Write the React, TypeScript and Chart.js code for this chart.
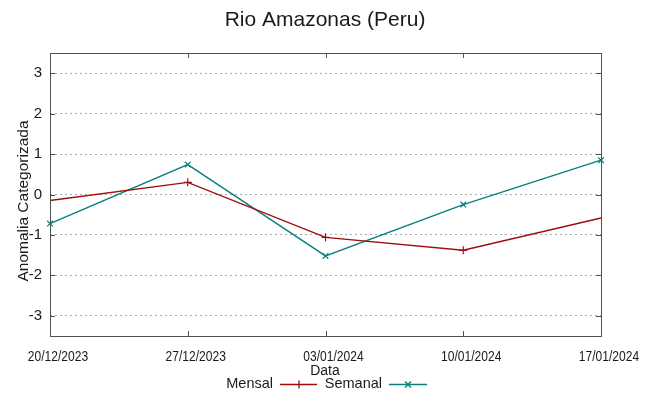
import React, { useEffect, useRef } from "react";
import { Chart, registerables } from "chart.js";

Chart.register(...registerables);

const categories = ["20/12/2023", "27/12/2023", "03/01/2024", "10/01/2024", "17/01/2024"];
const mensal = [-0.15, 0.3, -1.06, -1.38, -0.58];
const semanal = [-0.72, 0.74, -1.52, -0.25, 0.85];
const yTicks = [-3, -2, -1, 0, 1, 2, 3];

const RED = "#a00d0d";
const TEAL = "#0a8080";
const FONT = "'Liberation Sans', Arial, sans-serif";

const decorPlugin = {
  id: "decor",
  afterDraw(chart: any) {
    const ctx = chart.ctx as CanvasRenderingContext2D;
    const a = chart.chartArea;
    const ys = chart.scales.y;
    const xs = chart.scales.x;
    ctx.save();
    // box
    ctx.strokeStyle = "#505050";
    ctx.lineWidth = 1;
    ctx.strokeRect(Math.round(a.left) + 0.5, Math.round(a.top) + 0.5, Math.round(a.right - a.left), Math.round(a.bottom - a.top));
    // inner ticks
    ctx.beginPath();
    yTicks.forEach((v) => {
      const y = Math.round(ys.getPixelForValue(v)) + 0.5;
      ctx.moveTo(a.left, y);
      ctx.lineTo(a.left + 5, y);
      ctx.moveTo(a.right, y);
      ctx.lineTo(a.right - 5, y);
    });
    categories.forEach((_, i) => {
      const x = Math.round(xs.getPixelForValue(i)) + 0.5;
      ctx.moveTo(x, a.bottom);
      ctx.lineTo(x, a.bottom - 5);
      ctx.moveTo(x, a.top);
      ctx.lineTo(x, a.top + 5);
    });
    ctx.stroke();

    ctx.fillStyle = "#1a1a1a";
    // x tick labels (condensed)
    ctx.font = `14px ${FONT}`;
    ctx.textAlign = "center";
    ctx.textBaseline = "alphabetic";
    categories.forEach((c, i) => {
      const x = xs.getPixelForValue(i) + 8;
      ctx.save();
      ctx.translate(x, 361);
      ctx.scale(0.86, 1);
      ctx.fillText(c, 0, 0);
      ctx.restore();
    });
    // title
    ctx.font = `21px ${FONT}`;
    ctx.textAlign = "center";
    ctx.fillText("Rio Amazonas (Peru)", 325, 26);
    // y title
    ctx.save();
    ctx.translate(28, 201);
    ctx.rotate(-Math.PI / 2);
    ctx.font = `15.5px ${FONT}`;
    ctx.textAlign = "center";
    ctx.fillText("Anomalia Categorizada", 0, 0);
    ctx.restore();
    // x title
    ctx.font = `14px ${FONT}`;
    ctx.textAlign = "center";
    ctx.fillText("Data", 325, 375);
    // legend
    ctx.textAlign = "right";
    ctx.font = `14.5px ${FONT}`;
    ctx.fillText("Mensal", 273, 388);
    ctx.fillText("Semanal", 382, 388);
    const ly = 384.5;
    ctx.lineWidth = 1.3;
    ctx.strokeStyle = RED;
    ctx.beginPath();
    ctx.moveTo(280, ly);
    ctx.lineTo(317, ly);
    ctx.moveTo(299, ly - 4);
    ctx.lineTo(299, ly + 4);
    ctx.stroke();
    ctx.strokeStyle = TEAL;
    ctx.beginPath();
    ctx.moveTo(389, ly);
    ctx.lineTo(427, ly);
    ctx.moveTo(405, ly - 3);
    ctx.lineTo(411, ly + 3);
    ctx.moveTo(405, ly + 3);
    ctx.lineTo(411, ly - 3);
    ctx.stroke();
    ctx.restore();
  },
};

export default function App() {
  const ref = useRef<HTMLCanvasElement>(null);
  useEffect(() => {
    if (!ref.current) return;
    const chart = new Chart(ref.current, {
      type: "line",
      data: {
        labels: categories,
        datasets: [
          {
            label: "Mensal",
            data: mensal,
            borderColor: RED,
            backgroundColor: RED,
            borderWidth: 1.4,
            pointStyle: "cross",
            pointRadius: [0, 4, 4, 4, 0],
            pointBorderWidth: 1.2,
            pointBorderColor: RED,
            tension: 0,
            fill: false,
          },
          {
            label: "Semanal",
            data: semanal,
            borderColor: TEAL,
            backgroundColor: TEAL,
            borderWidth: 1.4,
            pointStyle: "crossRot",
            pointRadius: 4,
            pointBorderWidth: 1.2,
            pointBorderColor: TEAL,
            tension: 0,
            fill: false,
          },
        ],
      },
      options: {
        animation: false,
        responsive: true,
        maintainAspectRatio: false,
        layout: { padding: { left: 0, right: 48, top: 53, bottom: 0 } },
        plugins: {
          legend: { display: false },
          title: { display: false },
          tooltip: { enabled: false },
        },
        scales: {
          x: {
            type: "category",
            offset: false,
            grid: { display: false, drawTicks: false },
            border: { display: false },
            ticks: { display: false, autoSkip: false },
            afterFit: (s: any) => {
              s.height = 60;
            },
          },
          y: {
            min: -3.5,
            max: 3.5,
            grid: { color: "#aaaaaa", lineWidth: 1, drawTicks: false },
            border: { display: false, dash: [2, 3] },
            ticks: {
              font: { family: FONT, size: 15 },
              color: "#1a1a1a",
              padding: 8,
            },
            afterBuildTicks: (s: any) => {
              s.ticks = yTicks.map((v) => ({ value: v }));
            },
            afterFit: (s: any) => {
              s.width = 50;
            },
          },
        },
      },
      plugins: [decorPlugin],
    });
    return () => chart.destroy();
  }, []);
  return (
    <div style={{ position: "absolute", left: 0, top: 0, width: 649, height: 396, background: "#fff" }}>
      <canvas ref={ref} />
    </div>
  );
}
